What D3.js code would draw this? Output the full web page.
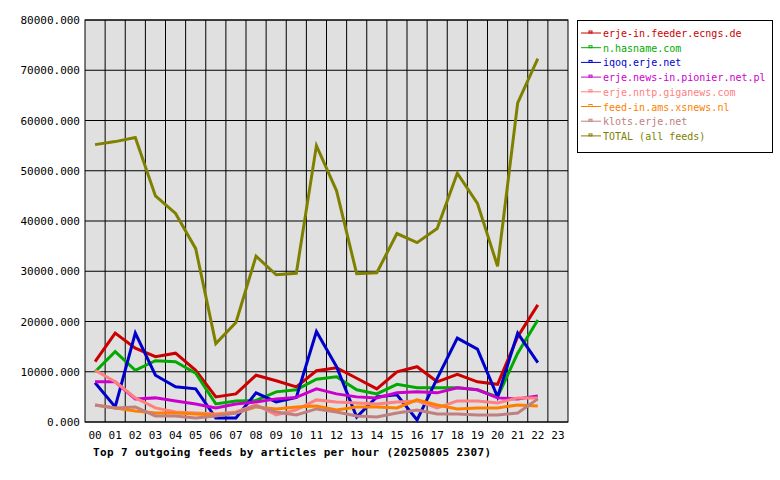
<!DOCTYPE html><html><head><meta charset="utf-8"><script src="https://cdn.jsdelivr.net/npm/d3@7"></script>
<style>body{margin:0;background:#fff}text{font-family:"DejaVu Sans Mono",monospace;font-size:11px}</style></head><body>
<svg id="c" width="780" height="480"></svg>
<script>
const hours=["00","01","02","03","04","05","06","07","08","09","10","11","12","13","14","15","16","17","18","19","20","21","22","23"];
const yTicks=[0,10000,20000,30000,40000,50000,60000,70000,80000];
const names=["erje-in.feeder.ecngs.de","n.hasname.com","iqoq.erje.net","erje.news-in.pionier.net.pl","erje.nntp.giganews.com","feed-in.ams.xsnews.nl","klots.erje.net","TOTAL (all feeds)"];
const colors=["#cc0000","#00aa00","#0000cc","#cc00cc","#ff8080","#ff8000","#c08080","#808000"];
const sRed=[12000,17700,14700,13000,13700,10300,5000,5600,9300,8200,7000,10200,10800,8700,6600,10000,11000,8000,9500,8000,7500,17000,23300];
const sGreen=[10000,14000,10300,12200,12000,9700,3600,4200,4300,6000,6400,8500,9000,6400,5600,7500,6800,6800,6800,6400,5000,13700,20300];
const sBlue=[7800,3000,17700,9300,7000,6600,800,800,5800,4000,4900,18000,11000,1000,5000,5400,400,8700,16700,14500,5000,17700,11800];
const sMagenta=[8000,8000,4600,4800,4200,3600,2800,3600,4000,4600,4900,6600,5600,5000,4800,5800,6000,5800,6800,6400,4800,4600,5200];
const sPink=[10300,8000,4800,2800,2000,1800,1600,2000,3400,1400,2400,4400,4000,3800,3600,4000,4200,2800,4200,4200,3800,4800,4800];
const sOrange=[3400,2800,2200,1800,1800,1600,1400,1800,3000,2600,3000,3200,2400,3000,3000,2800,4400,3400,2600,2800,2800,3400,3200];
const sBrown=[3400,2800,3000,1200,1200,800,1200,1800,3200,2000,1400,2600,2000,1200,1000,1800,2400,1600,1600,1400,1400,1800,4600];
const sTotal=[55200,55800,56600,45000,41500,34500,15600,19800,33000,29300,29600,55000,46000,29500,29700,37500,35700,38500,49500,43500,31000,63500,72300];
const series=[sRed,sGreen,sBlue,sMagenta,sPink,sOrange,sBrown,sTotal];
const svg=d3.select("#c");
const L=85,R=568,T=20,B=422;
const x=d3.scaleBand().domain(hours).range([L,R]);
const y=d3.scaleLinear().domain([0,80000]).range([B,T]);
svg.append("rect").attr("x",L).attr("y",T).attr("width",R-L).attr("height",B-T).attr("fill","#e0e0e0");
const g=svg.append("g");
hours.forEach((h,i)=>{if(i>0)g.append("line").attr("x1",x(h)).attr("x2",x(h)).attr("y1",T).attr("y2",B).attr("stroke","#000");});
yTicks.forEach(v=>g.append("line").attr("x1",L).attr("x2",R).attr("y1",y(v)).attr("y2",y(v)).attr("stroke","#000"));
svg.append("rect").attr("x",L).attr("y",T).attr("width",R-L).attr("height",B-T).attr("fill","none").attr("stroke","#000");
yTicks.forEach(v=>svg.append("text").attr("x",80).attr("y",y(v)+4).attr("text-anchor","end").text(v.toFixed(3)));
hours.forEach(h=>svg.append("text").attr("x",x(h)+x.bandwidth()/2).attr("y",439).attr("text-anchor","middle").text(h));
const line=d3.line().x((d,i)=>x(hours[i])+x.bandwidth()/2).y(d=>y(d));
series.forEach((s,k)=>svg.append("path").attr("d",line(s)).attr("fill","none").attr("stroke",colors[k]).attr("stroke-width",3).attr("stroke-linejoin","miter"));
svg.append("text").attr("x",93).attr("y",456).attr("font-weight","bold").attr("textLength",398).attr("lengthAdjust","spacing").text("Top 7 outgoing feeds by articles per hour (20250805 2307)");
const lg=svg.append("g");
lg.append("rect").attr("x",577.5).attr("y",20.5).attr("width",195).attr("height",132).attr("fill","#fff").attr("stroke","#000");
names.forEach((n,k)=>{const yy=33+k*14.7;
lg.append("line").attr("x1",581).attr("x2",601).attr("y1",yy).attr("y2",yy).attr("stroke",colors[k]);
lg.append("rect").attr("x",589).attr("y",yy-2).attr("width",3).attr("height",2).attr("fill","none").attr("stroke",colors[k]).attr("stroke-width",1);
lg.append("text").attr("x",603).attr("y",yy+4).attr("fill",colors[k]).style("font-size","10px").text(n);});
</script></body></html>
